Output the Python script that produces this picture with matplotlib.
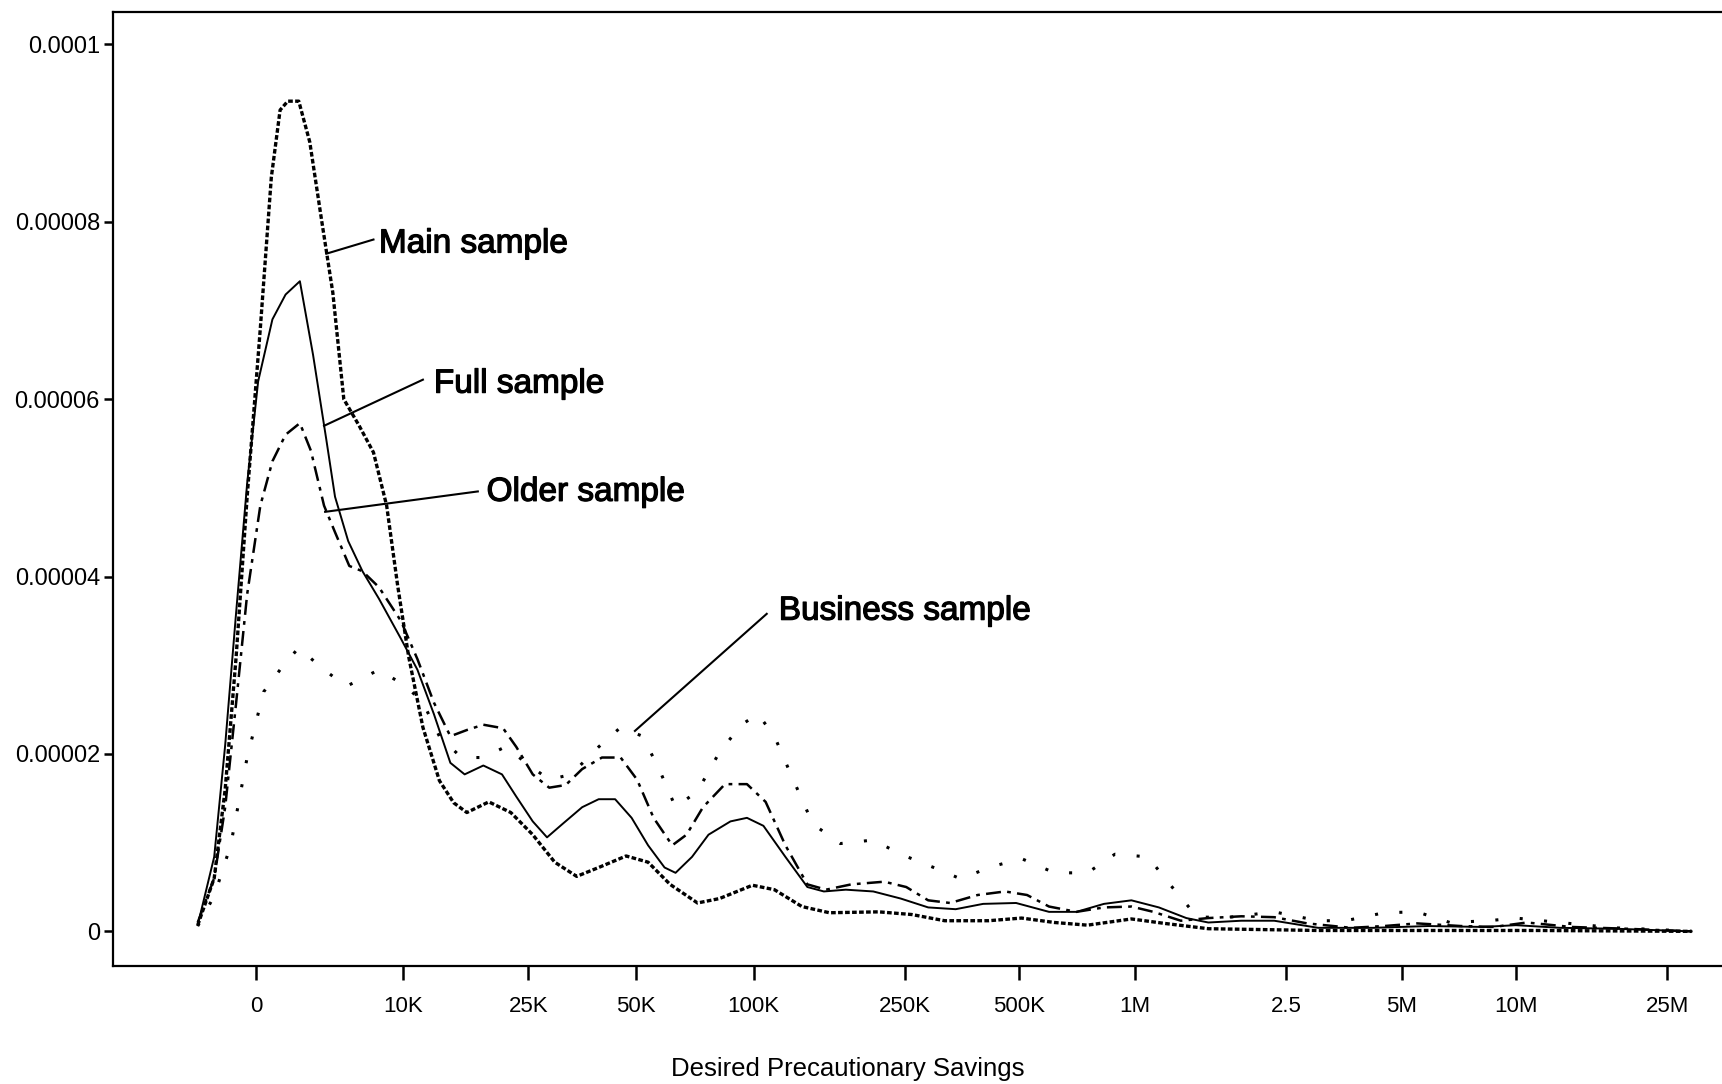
import matplotlib
matplotlib.use("Agg")
import matplotlib.pyplot as plt
import matplotlib.patheffects as pe
import numpy as np

plt.rcParams['font.family'] = ['Liberation Sans', 'DejaVu Sans']

# x is the transformed savings scale (tick positions below), y is density
tick_pos = [0, 1.34, 2.48, 3.46, 4.53, 5.91, 6.95, 8.00, 9.38, 10.43, 11.47, 12.85]
tick_labels = ["0", "10K", "25K", "50K", "100K", "250K", "500K", "1M", "2.5", "5M", "10M", "25M"]
ytick_vals = [0, 2e-5, 4e-5, 6e-5, 8e-5, 1e-4]
ytick_labels = ["0", "0.00002", "0.00004", "0.00006", "0.00008", "0.0001"]

main_x = [-0.53, -0.38, -0.28, -0.18, -0.08, 0.04, 0.14, 0.22, 0.29, 0.39, 0.49, 0.60, 0.70,
          0.80, 0.94, 1.07, 1.19, 1.29, 1.39, 1.52, 1.67, 1.80, 1.92, 2.12, 2.32, 2.52, 2.72,
          2.92, 3.12, 3.37, 3.57, 3.77, 4.02, 4.22, 4.52, 4.72, 4.97, 5.22, 5.67, 5.97, 6.27,
          6.67, 6.97, 7.27, 7.57, 7.97, 8.27, 8.67, 9.67, 10.67, 11.67, 13.07]
main_y = [0.07, 0.6, 1.6, 3.1, 4.9, 6.8, 8.5, 9.26, 9.36, 9.36, 8.9, 8.0, 7.2,
          6.0, 5.7, 5.4, 4.8, 3.9, 3.1, 2.3, 1.7, 1.45, 1.34, 1.46, 1.34, 1.09, 0.78,
          0.62, 0.72, 0.85, 0.78, 0.53, 0.32, 0.37, 0.52, 0.47, 0.28, 0.21, 0.22, 0.19, 0.12,
          0.12, 0.15, 0.10, 0.07, 0.14, 0.09, 0.03, 0.01, 0.01, 0.01, 0.0]

full_x = [-0.53, -0.38, -0.28, -0.18, -0.08, 0.02, 0.15, 0.27, 0.40, 0.52, 0.64, 0.72, 0.84,
          0.97, 1.12, 1.32, 1.47, 1.62, 1.77, 1.90, 2.07, 2.24, 2.37, 2.52, 2.65, 2.79, 2.97,
          3.12, 3.27, 3.42, 3.57, 3.72, 3.82, 3.97, 4.12, 4.32, 4.47, 4.62, 4.82, 5.02, 5.17,
          5.37, 5.62, 5.87, 6.12, 6.37, 6.62, 6.92, 7.22, 7.47, 7.72, 7.97, 8.22, 8.47, 8.67,
          8.97, 9.27, 9.67, 10.17, 10.67, 11.17, 11.47, 11.87, 12.37, 13.07]
full_y = [0.07, 0.84, 2.1, 3.6, 5.05, 6.2, 6.9, 7.18, 7.33, 6.5, 5.55, 4.9, 4.4,
          4.06, 3.75, 3.3, 2.95, 2.45, 1.9, 1.77, 1.87, 1.77, 1.52, 1.24, 1.06, 1.21, 1.40,
          1.49, 1.49, 1.28, 0.97, 0.72, 0.66, 0.84, 1.09, 1.24, 1.28, 1.19, 0.84, 0.50, 0.45,
          0.47, 0.45, 0.37, 0.27, 0.25, 0.31, 0.32, 0.22, 0.22, 0.31, 0.35, 0.27, 0.15, 0.10,
          0.12, 0.12, 0.04, 0.04, 0.06, 0.05, 0.07, 0.04, 0.03, 0.0]

older_x = [-0.53, -0.38, -0.28, -0.18, -0.08, 0.04, 0.15, 0.27, 0.40, 0.50, 0.62, 0.72, 0.85,
           0.97, 1.12, 1.32, 1.47, 1.62, 1.77, 1.92, 2.07, 2.25, 2.37, 2.52, 2.67, 2.82, 2.97,
           3.15, 3.32, 3.47, 3.62, 3.79, 3.92, 4.07, 4.27, 4.47, 4.64, 4.82, 5.02, 5.19, 5.42,
           5.72, 5.92, 6.12, 6.32, 6.57, 6.82, 7.02, 7.22, 7.47, 7.72, 7.97, 8.17, 8.42, 8.67,
           8.97, 9.27, 9.57, 9.97, 10.27, 10.57, 10.97, 11.27, 11.57, 11.97, 12.47, 13.07]
older_y = [0.1, 0.6, 1.4, 2.58, 3.8, 4.8, 5.3, 5.6, 5.73, 5.42, 4.8, 4.5, 4.12,
           4.06, 3.88, 3.5, 3.07, 2.58, 2.2, 2.27, 2.33, 2.29, 2.08, 1.77, 1.62, 1.65, 1.83,
           1.96, 1.96, 1.71, 1.28, 0.97, 1.09, 1.40, 1.66, 1.66, 1.46, 0.97, 0.53, 0.47, 0.53,
           0.56, 0.50, 0.35, 0.32, 0.41, 0.45, 0.41, 0.28, 0.22, 0.27, 0.28, 0.22, 0.12, 0.15,
           0.17, 0.16, 0.09, 0.04, 0.06, 0.09, 0.06, 0.05, 0.10, 0.05, 0.03, 0.0]

business_x = [-0.53, -0.38, -0.23, -0.08, 0.07, 0.22, 0.39, 0.57, 0.82, 1.12, 1.37, 1.52, 1.67,
              1.87, 2.07, 2.27, 2.47, 2.67, 2.87, 3.12, 3.32, 3.52, 3.67, 3.82, 4.02, 4.22, 4.42,
              4.57, 4.72, 4.87, 5.07, 5.32, 5.62, 5.87, 6.17, 6.42, 6.67, 6.97, 7.27, 7.57, 7.82,
              8.12, 8.32, 8.57, 8.87, 9.27, 9.67, 9.92, 10.27, 10.57, 10.87, 11.22, 11.47, 11.87,
              12.37, 12.77, 13.07]
business_y = [0.06, 0.4, 0.97, 1.96, 2.7, 2.95, 3.2, 3.0, 2.76, 2.95, 2.76, 2.58, 2.2,
              1.96, 1.96, 2.08, 1.89, 1.71, 1.77, 2.08, 2.3, 2.2, 1.83, 1.40, 1.58, 2.02, 2.33,
              2.45, 2.2, 1.77, 1.21, 0.99, 1.03, 0.87, 0.72, 0.59, 0.72, 0.82, 0.66, 0.66, 0.87,
              0.84, 0.53, 0.16, 0.16, 0.22, 0.12, 0.12, 0.21, 0.22, 0.10, 0.12, 0.15, 0.10,
              0.04, 0.02, 0.0]

# annotation labels and their leader lines
labels = ["Main sample", "Full sample", "Older sample", "Business sample"]
label_pos = [(1.12, 7.75), (1.62, 6.17), (2.10, 4.95), (4.76, 3.61)]
leader_from = [(0.64, 7.64), (0.62, 5.70), (0.63, 4.73), (3.45, 2.26)]
leader_to = [(1.07, 7.80), (1.52, 6.22), (2.02, 4.96), (4.65, 3.58)]

W, H = 1722, 1084
fig = plt.figure(figsize=(W / 100, H / 100), dpi=100)
ax = fig.add_axes([0.0657, 0.1084, 1.02 - 0.0657, 0.8805])

sc = 1e-5
ax.plot(main_x, np.array(main_y) * sc, color='black', lw=2.4, linestyle=(0, (1.4, 0.7)))
ax.plot(full_x, np.array(full_y) * sc, color='black', lw=1.4, linestyle='-')
ax.plot(older_x, np.array(older_y) * sc, color='black', lw=1.8, linestyle=(0, (6, 2.5, 1.5, 2.5)))
ax.plot(business_x, np.array(business_y) * sc, color='black', lw=2.2, linestyle=(0, (1.0, 7)))

for lab, (tx, ty), (x0, y0), (x1, y1) in zip(labels, label_pos, leader_from, leader_to):
    ax.plot([x0, x1], [y0 * sc, y1 * sc], color='black', lw=1.5)
    ax.text(tx, ty * sc, lab, fontsize=24, va='center', ha='left', color='black',
            path_effects=[pe.withStroke(linewidth=0.9, foreground='black')])

ax.set_xlim(-1.30, 13.66)
ax.set_ylim(-0.396e-5, 10.365e-5)
ax.set_xticks(tick_pos)
ax.set_xticklabels(tick_labels)
ax.set_yticks(ytick_vals)
ax.set_yticklabels(ytick_labels)
ax.tick_params(axis='x', length=10, width=1.8, pad=11, labelsize=16, direction='out')
ax.tick_params(axis='y', length=6.5, width=1.8, pad=3, labelsize=17, direction='out')

ax.spines['right'].set_visible(False)
for s in ['left', 'top', 'bottom']:
    ax.spines[s].set_linewidth(1.6)

fig.text(0.4923, 0.014, "Desired Precautionary Savings", fontsize=18.5, ha='center', va='center')

fig.savefig('out.png', dpi=100)
